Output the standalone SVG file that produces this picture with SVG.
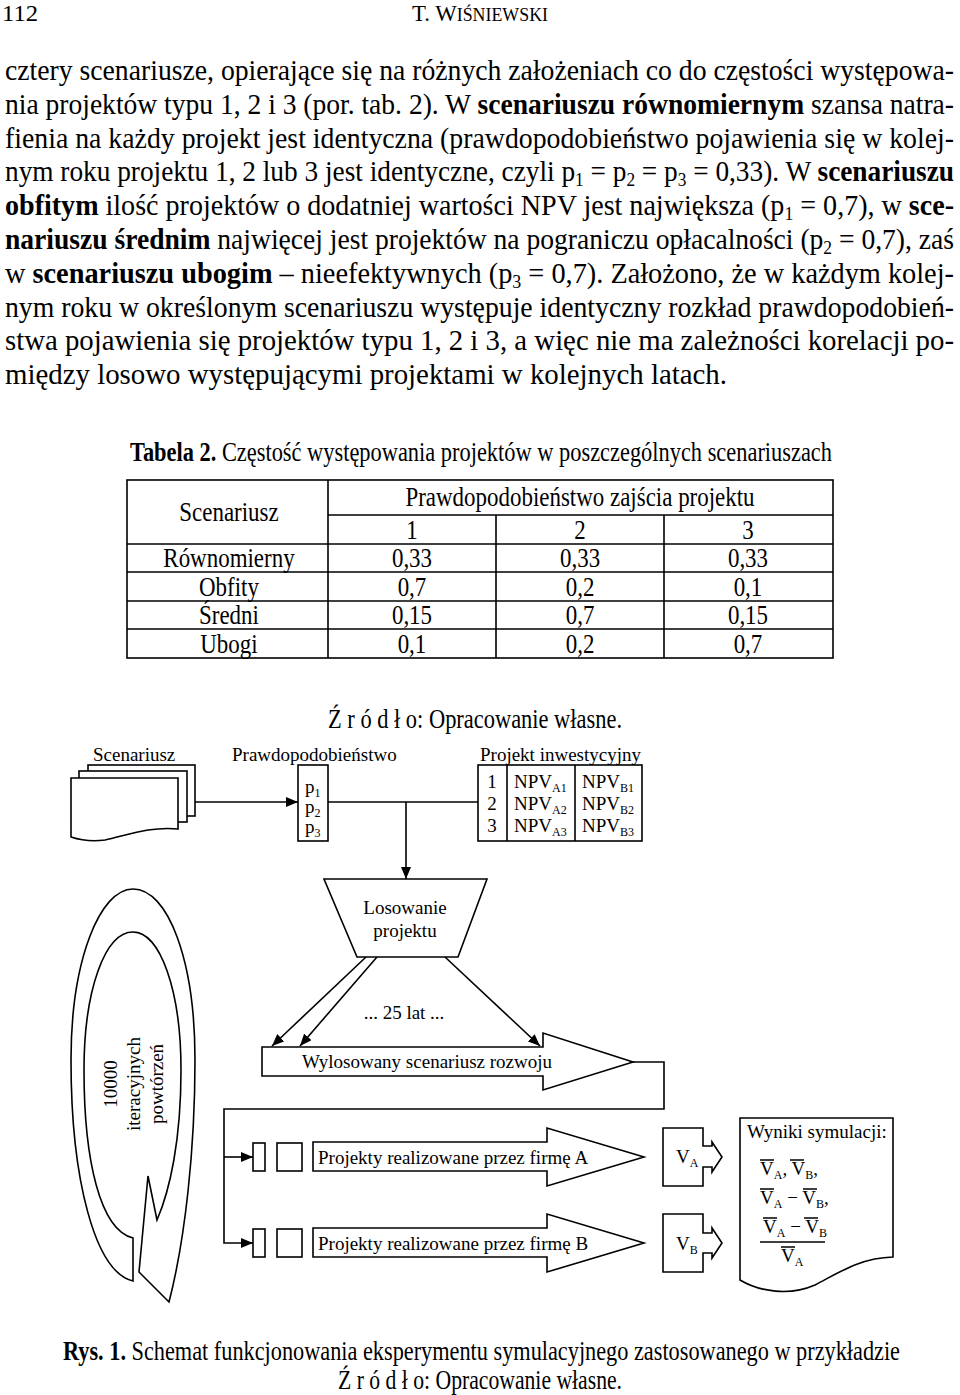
<svg xmlns="http://www.w3.org/2000/svg" width="960" height="1395" viewBox="0 0 960 1395">
<style>
text{font-family:"Liberation Serif","Times New Roman",serif;fill:#000}
.d{font-size:19px}
.b{font-size:30px}
.tb{font-size:27px}
.bd{font-weight:bold}
.s{font-size:12px}
.sb{font-size:19px}
.sh{fill:#fff;stroke:#000;stroke-width:1.6}
.ln{fill:none;stroke:#000;stroke-width:1.6}
.mid{text-anchor:middle}
</style>
<defs>
<marker id="ah" viewBox="0 0 12 10" refX="12" refY="5" markerWidth="12" markerHeight="10" markerUnits="userSpaceOnUse" orient="auto"><path d="M0,0 L12,5 L0,10 Z" fill="#000"/></marker>
</defs>
<rect width="960" height="1395" fill="#fff"/>

<g id="header">
<text x="2" y="21" style="font-size:24px" textLength="36" lengthAdjust="spacingAndGlyphs">112</text>
<text x="412" y="21" style="font-size:23px" textLength="136" lengthAdjust="spacingAndGlyphs">T. W<tspan style="font-size:18px">IŚNIEWSKI</tspan></text>
</g>

<g id="body">
<text class="b" x="5" y="80" textLength="949" lengthAdjust="spacingAndGlyphs">cztery scenariusze, opierające się na różnych założeniach co do częstości występowa-</text>
<text class="b" x="5" y="113.8" textLength="949" lengthAdjust="spacingAndGlyphs">nia projektów typu 1, 2 i 3 (por. tab. 2). W <tspan class="bd">scenariuszu równomiernym</tspan> szansa natra-</text>
<text class="b" x="5" y="147.6" textLength="949" lengthAdjust="spacingAndGlyphs">fienia na każdy projekt jest identyczna (prawdopodobieństwo pojawienia się w kolej-</text>
<text class="b" x="5" y="181.4" textLength="949" lengthAdjust="spacingAndGlyphs">nym roku projektu 1, 2 lub 3 jest identyczne, czyli p<tspan class="sb" dy="5">1</tspan><tspan dy="-5"> = p</tspan><tspan class="sb" dy="5">2</tspan><tspan dy="-5"> = p</tspan><tspan class="sb" dy="5">3</tspan><tspan dy="-5"> = 0,33). W </tspan><tspan class="bd">scenariuszu</tspan></text>
<text class="b" x="5" y="215.2" textLength="949" lengthAdjust="spacingAndGlyphs"><tspan class="bd">obfitym</tspan> ilość projektów o dodatniej wartości NPV jest największa (p<tspan class="sb" dy="5">1</tspan><tspan dy="-5"> = 0,7), w </tspan><tspan class="bd">sce-</tspan></text>
<text class="b" x="5" y="249" textLength="949" lengthAdjust="spacingAndGlyphs"><tspan class="bd">nariuszu średnim</tspan> najwięcej jest projektów na pograniczu opłacalności (p<tspan class="sb" dy="5">2</tspan><tspan dy="-5"> = 0,7), zaś</tspan></text>
<text class="b" x="5" y="282.8" textLength="949" lengthAdjust="spacingAndGlyphs">w <tspan class="bd">scenariuszu ubogim</tspan> – nieefektywnych (p<tspan class="sb" dy="5">3</tspan><tspan dy="-5"> = 0,7). Założono, że w każdym kolej-</tspan></text>
<text class="b" x="5" y="316.6" textLength="949" lengthAdjust="spacingAndGlyphs">nym roku w określonym scenariuszu występuje identyczny rozkład prawdopodobień-</text>
<text class="b" x="5" y="350.4" textLength="949" lengthAdjust="spacingAndGlyphs">stwa pojawienia się projektów typu 1, 2 i 3, a więc nie ma zależności korelacji po-</text>
<text class="b" x="5" y="384.2" textLength="722" lengthAdjust="spacingAndGlyphs">między losowo występującymi projektami w kolejnych latach.</text>
</g>

<g id="table2">
<text class="tb" x="130" y="461" textLength="702" lengthAdjust="spacingAndGlyphs"><tspan class="bd">Tabela 2.</tspan> Częstość występowania projektów w poszczególnych scenariuszach</text>
<rect x="127" y="480" width="706" height="178" fill="none" stroke="#000" stroke-width="1.6"/>
<path class="ln" d="M328,480 V658 M328,515 H833 M127,544 H833 M127,572 H833 M127,601 H833 M127,629 H833 M496,515 V658 M664,515 V658"/>
<g transform="scale(0.85 1)">
<text class="tb mid" x="269.4" y="521">Scenariusz</text>
<text class="tb mid" x="682.4" y="506">Prawdopodobieństwo zajścia projektu</text>
<text class="tb mid" x="484.7" y="539">1</text>
<text class="tb mid" x="682.4" y="539">2</text>
<text class="tb mid" x="880" y="539">3</text>
<text class="tb mid" x="269.4" y="567">Równomierny</text>
<text class="tb mid" x="484.7" y="567">0,33</text>
<text class="tb mid" x="682.4" y="567">0,33</text>
<text class="tb mid" x="880" y="567">0,33</text>
<text class="tb mid" x="269.4" y="596">Obfity</text>
<text class="tb mid" x="484.7" y="596">0,7</text>
<text class="tb mid" x="682.4" y="596">0,2</text>
<text class="tb mid" x="880" y="596">0,1</text>
<text class="tb mid" x="269.4" y="624">Średni</text>
<text class="tb mid" x="484.7" y="624">0,15</text>
<text class="tb mid" x="682.4" y="624">0,7</text>
<text class="tb mid" x="880" y="624">0,15</text>
<text class="tb mid" x="269.4" y="653">Ubogi</text>
<text class="tb mid" x="484.7" y="653">0,1</text>
<text class="tb mid" x="682.4" y="653">0,2</text>
<text class="tb mid" x="880" y="653">0,7</text>
</g>
<text class="tb" x="328" y="728" textLength="294" lengthAdjust="spacingAndGlyphs">Ź r ó d ł o: Opracowanie własne.</text>
</g>

<g id="n-scenariusz">
<text class="d" x="93" y="761">Scenariusz</text>
<rect class="sh" x="88" y="765" width="107" height="51"/>
<rect class="sh" x="79" y="771" width="108" height="51"/>
<path class="sh" d="M71,778 H178 V829 C150,826 125,836 105,840 C90,842 80,840 71,837 Z"/>
</g>

<g id="n-prawdopodobienstwo">
<text class="d" x="232" y="761">Prawdopodobieństwo</text>
<rect class="sh" x="298" y="765" width="30" height="76"/>
<text class="d" x="305" y="793">p<tspan class="s" dy="4">1</tspan></text>
<text class="d" x="305" y="813">p<tspan class="s" dy="4">2</tspan></text>
<text class="d" x="305" y="833">p<tspan class="s" dy="4">3</tspan></text>
</g>

<g id="n-projekt">
<text class="d" x="480" y="761">Projekt inwestycyjny</text>
<rect class="sh" x="478" y="765" width="164" height="76"/>
<path class="ln" d="M507,765 V841 M575,765 V841"/>
<text class="d mid" x="492" y="788">1</text>
<text class="d mid" x="492" y="810">2</text>
<text class="d mid" x="492" y="832">3</text>
<text class="d" x="514" y="788">NPV<tspan class="s" dy="4">A1</tspan></text>
<text class="d" x="514" y="810">NPV<tspan class="s" dy="4">A2</tspan></text>
<text class="d" x="514" y="832">NPV<tspan class="s" dy="4">A3</tspan></text>
<text class="d" x="582" y="788">NPV<tspan class="s" dy="4">B1</tspan></text>
<text class="d" x="582" y="810">NPV<tspan class="s" dy="4">B2</tspan></text>
<text class="d" x="582" y="832">NPV<tspan class="s" dy="4">B3</tspan></text>
</g>

<g id="n-losowanie">
<polygon class="sh" points="324,879 487,879 458,957 357,957"/>
<text class="d mid" x="405" y="914">Losowanie</text>
<text class="d mid" x="405" y="937">projektu</text>
</g>

<g id="n-lat">
<text class="d mid" x="404" y="1019">... 25 lat ...</text>
</g>

<g id="n-loop">
<path class="sh" d="M133,1281 C95,1272 71,1180 71,1060 C71,960 100,889 133,889 C168,889 195,960 195,1060 C195,1150 185,1240 169,1302 L139,1272 L148,1176 L157,1220 C170,1190 181,1140 181,1070 C181,990 160,932 133,932 C105,932 84,990 84,1070 C84,1160 100,1230 133,1238 Z"/>
<text class="d mid" transform="translate(117,1084) rotate(-90)">10000</text>
<text class="d mid" transform="translate(140,1084) rotate(-90)">iteracyjnych</text>
<text class="d mid" transform="translate(163,1084) rotate(-90)">powtórzeń</text>
</g>

<g id="n-wylosowany">
<polygon class="sh" points="262,1047 543,1047 543,1033 633,1062 543,1090 543,1076 262,1076"/>
<text class="d" x="302" y="1068">Wylosowany scenariusz rozwoju</text>
</g>

<g id="n-small">
<rect class="sh" x="253" y="1143" width="12" height="28"/>
<rect class="sh" x="277" y="1143" width="25" height="28"/>
<rect class="sh" x="253" y="1229" width="12" height="28"/>
<rect class="sh" x="277" y="1229" width="25" height="28"/>
</g>

<g id="n-firmaA">
<polygon class="sh" points="313,1142 547,1142 547,1128 644,1157 547,1186 547,1171 313,1171"/>
<text class="d" x="318" y="1164">Projekty realizowane przez firmę A</text>
</g>

<g id="n-firmaB">
<polygon class="sh" points="313,1228 547,1228 547,1214 644,1243 547,1272 547,1257 313,1257"/>
<text class="d" x="318" y="1250">Projekty realizowane przez firmę B</text>
</g>

<g id="n-VA">
<path class="sh" d="M663,1128 L703,1128 L703,1146 L712,1146 L712,1142 L722,1157 L712,1172 L712,1167 L703,1167 L703,1186 L663,1186 Z"/>
<text class="d" x="676" y="1163">V<tspan class="s" dy="4">A</tspan></text>
</g>

<g id="n-VB">
<path class="sh" d="M663,1214 L703,1214 L703,1233 L712,1233 L712,1228 L722,1243 L712,1258 L712,1253 L703,1253 L703,1272 L663,1272 Z"/>
<text class="d" x="676" y="1250">V<tspan class="s" dy="4">B</tspan></text>
</g>

<g id="n-wyniki">
<path class="sh" d="M740,1118 H893 V1257 C860,1258 840,1272 815,1285 C790,1296 760,1292 740,1280 Z"/>
<text class="d" x="747" y="1138">Wyniki symulacji:</text>
<text class="d" x="760" y="1175">V<tspan class="s" dy="4">A</tspan><tspan dy="-4">, V</tspan><tspan class="s" dy="4">B</tspan><tspan dy="-4">,</tspan></text>
<text class="d" x="760" y="1204">V<tspan class="s" dy="4">A</tspan><tspan dy="-4"> − V</tspan><tspan class="s" dy="4">B</tspan><tspan dy="-4">,</tspan></text>
<text class="d" x="763" y="1233">V<tspan class="s" dy="4">A</tspan><tspan dy="-4"> − V</tspan><tspan class="s" dy="4">B</tspan></text>
<text class="d" x="781" y="1262">V<tspan class="s" dy="4">A</tspan></text>
<path class="ln" stroke-width="1.3" d="M760,1160 H774 M790,1160 H804 M760,1189 H774 M803,1189 H817 M763,1218 H777 M804,1218 H818 M781,1247 H795 M760,1242 H825"/>
</g>

<g id="connectors" fill="none" stroke="#000" stroke-width="1.6">
<path d="M195,802 L298,802" marker-end="url(#ah)"/>
<path d="M328,802 L478,802"/>
<path d="M406,802 L406,879" marker-end="url(#ah)"/>
<path d="M366,957 L272,1046" marker-end="url(#ah)"/>
<path d="M377,957 L300,1046" marker-end="url(#ah)"/>
<path d="M445,957 L540,1046" marker-end="url(#ah)"/>
<path d="M633,1062 L664,1062 L664,1109 L224,1109 L224,1243 L253,1243" marker-end="url(#ah)"/>
<path d="M224,1157 L253,1157" marker-end="url(#ah)"/>
</g>

<g id="caption">
<text class="tb" x="63" y="1360" textLength="837" lengthAdjust="spacingAndGlyphs"><tspan class="bd">Rys. 1.</tspan> Schemat funkcjonowania eksperymentu symulacyjnego zastosowanego w przykładzie</text>
<text class="tb" x="338" y="1389" textLength="284" lengthAdjust="spacingAndGlyphs">Ź r ó d ł o: Opracowanie własne.</text>
</g>
</svg>
